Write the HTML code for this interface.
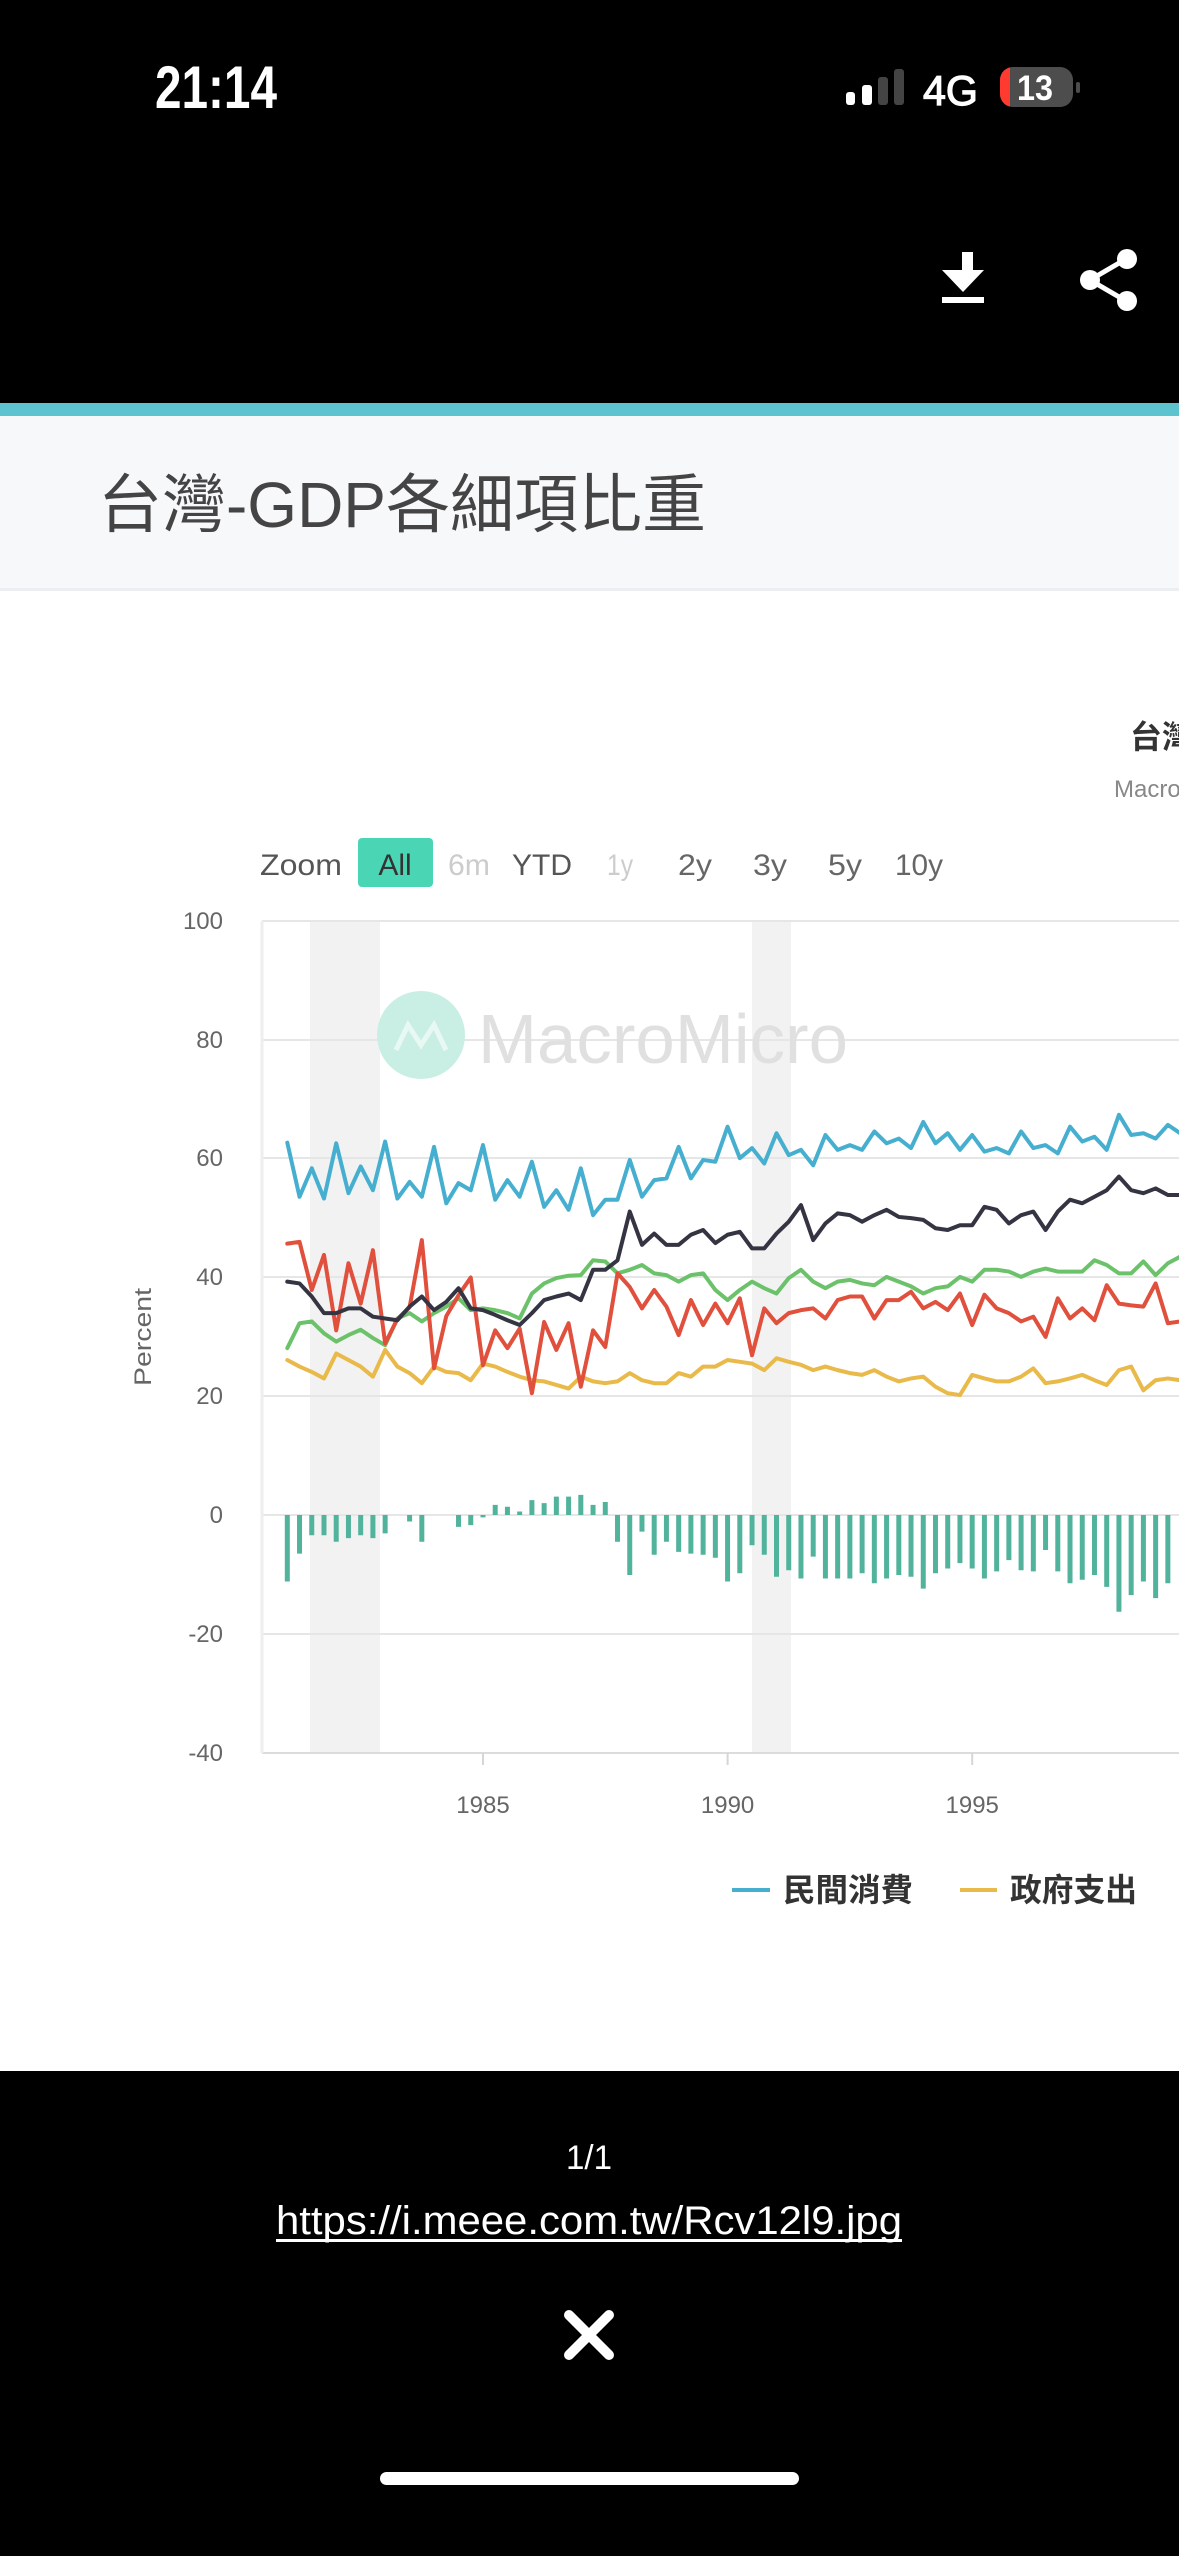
<!DOCTYPE html>
<html>
<head>
<meta charset="utf-8">
<style>
html,body{margin:0;padding:0;background:#fff;}
body{width:1179px;height:2556px;overflow:hidden;}
svg{display:block;}
text{font-family:"Liberation Sans","Noto Sans CJK TC",sans-serif;}
</style>
</head>
<body>
<svg width="1179" height="2556" viewBox="0 0 1179 2556" xmlns="http://www.w3.org/2000/svg">
  <!-- top black area -->
  <rect x="0" y="0" width="1179" height="403" fill="#000"/>
  <!-- status bar -->
  <text x="155" y="108" font-size="60" font-weight="bold" fill="#fff" textLength="122" lengthAdjust="spacingAndGlyphs">21:14</text>
  <rect x="846" y="92" width="9" height="13" rx="3" fill="#fff"/>
  <rect x="862" y="85" width="10" height="20" rx="3" fill="#fff"/>
  <rect x="878" y="77" width="10" height="28" rx="3" fill="#444"/>
  <rect x="894" y="69" width="10" height="36" rx="3" fill="#444"/>
  <text x="923" y="105" font-size="42" fill="#fff" stroke="#fff" stroke-width="1.2" textLength="55" lengthAdjust="spacingAndGlyphs">4G</text>
  <clipPath id="bat"><rect x="1000" y="67" width="73" height="40" rx="13"/></clipPath>
  <rect x="1000" y="67" width="73" height="40" rx="13" fill="#4d4d4d"/>
  <rect x="1000" y="67" width="10" height="40" fill="#ff3b30" clip-path="url(#bat)"/>
  <rect x="1076" y="82" width="4" height="11" rx="2" fill="#4d4d4d"/>
  <text x="1017" y="100" font-size="35" font-weight="bold" fill="#fff" textLength="36" lengthAdjust="spacingAndGlyphs">13</text>
  <!-- download icon -->
  <rect x="962" y="252" width="11" height="20" fill="#fff"/>
  <polygon points="942,270 984,270 963,292" fill="#fff"/>
  <rect x="942" y="297" width="42" height="6" fill="#fff"/>
  <!-- share icon -->
  <line x1="1090" y1="280" x2="1126" y2="259" stroke="#fff" stroke-width="5"/>
  <line x1="1090" y1="280" x2="1126" y2="301" stroke="#fff" stroke-width="5"/>
  <circle cx="1127" cy="259" r="10" fill="#fff"/>
  <circle cx="1090" cy="280" r="10" fill="#fff"/>
  <circle cx="1127" cy="301" r="10" fill="#fff"/>

  <!-- teal strip -->
  <rect x="0" y="403" width="1179" height="13" fill="#5cc3cf"/>
  <!-- header -->
  <rect x="0" y="416" width="1179" height="174" fill="#f7f8fa"/>
  <rect x="0" y="588" width="1179" height="3" fill="#eceef1"/>
  <text x="98" y="527" font-size="64" fill="#444" textLength="608" lengthAdjust="spacingAndGlyphs">台灣-GDP各細項比重</text>

  <!-- chart titles (cut off) -->
  <text x="1130" y="748" font-size="32" font-weight="bold" fill="#333">台灣-GDP各細項比重</text>
  <text x="1114" y="797" font-size="24" fill="#888">MacroMicro</text>

  <!-- zoom buttons -->
  <text x="260" y="875" font-size="30" fill="#555" textLength="82" lengthAdjust="spacingAndGlyphs">Zoom</text>
  <rect x="358" y="838" width="75" height="49" rx="4" fill="#4ad6b4"/>
  <text x="395" y="875" font-size="30" fill="#333" text-anchor="middle">All</text>
  <text x="448" y="875" font-size="30" fill="#ccc" textLength="42" lengthAdjust="spacingAndGlyphs">6m</text>
  <text x="512" y="875" font-size="30" fill="#555" textLength="60" lengthAdjust="spacingAndGlyphs">YTD</text>
  <text x="607" y="875" font-size="30" fill="#ccc" textLength="26" lengthAdjust="spacingAndGlyphs">1y</text>
  <text x="678" y="875" font-size="30" fill="#666" textLength="34" lengthAdjust="spacingAndGlyphs">2y</text>
  <text x="753" y="875" font-size="30" fill="#666" textLength="34" lengthAdjust="spacingAndGlyphs">3y</text>
  <text x="828" y="875" font-size="30" fill="#666" textLength="34" lengthAdjust="spacingAndGlyphs">5y</text>
  <text x="895" y="875" font-size="30" fill="#666" textLength="48" lengthAdjust="spacingAndGlyphs">10y</text>

  <!-- recession bands -->
  <rect x="310" y="921" width="70" height="832" fill="#f2f2f2"/>
  <rect x="752" y="921" width="39" height="832" fill="#f2f2f2"/>

  <!-- gridlines -->
  <g stroke="#e6e6e6" stroke-width="2">
    <line x1="262" y1="921" x2="1179" y2="921"/>
    <line x1="262" y1="1040" x2="1179" y2="1040"/>
    <line x1="262" y1="1158" x2="1179" y2="1158"/>
    <line x1="262" y1="1277" x2="1179" y2="1277"/>
    <line x1="262" y1="1396" x2="1179" y2="1396"/>
    <line x1="262" y1="1515" x2="1179" y2="1515"/>
    <line x1="262" y1="1634" x2="1179" y2="1634"/>
  </g>
  <line x1="262" y1="1753" x2="1179" y2="1753" stroke="#dcdcdc" stroke-width="2"/>
  <line x1="262" y1="921" x2="262" y2="1753" stroke="#eeeeee" stroke-width="3"/>
  <g stroke="#d6d6d6" stroke-width="2">
    <line x1="483" y1="1753" x2="483" y2="1765"/>
    <line x1="727.6" y1="1753" x2="727.6" y2="1765"/>
    <line x1="972.2" y1="1753" x2="972.2" y2="1765"/>
  </g>

  <!-- y labels -->
  <g font-size="24" fill="#666" text-anchor="end">
    <text x="223" y="929">100</text>
    <text x="223" y="1048">80</text>
    <text x="223" y="1166">60</text>
    <text x="223" y="1285">40</text>
    <text x="223" y="1404">20</text>
    <text x="223" y="1523">0</text>
    <text x="223" y="1642">-20</text>
    <text x="223" y="1761">-40</text>
  </g>
  <!-- x labels -->
  <g font-size="24" fill="#666" text-anchor="middle">
    <text x="483" y="1813">1985</text>
    <text x="727.6" y="1813">1990</text>
    <text x="972.2" y="1813">1995</text>
  </g>
  <text transform="translate(151,1337) rotate(-90)" font-size="24" fill="#666" text-anchor="middle" textLength="98" lengthAdjust="spacingAndGlyphs">Percent</text>

  <!-- watermark -->
  <circle cx="421" cy="1035" r="44" fill="#c9efe4"/>
  <polyline points="396,1050 408,1025 421,1045 434,1025 446,1050" fill="none" stroke="#e8f8f3" stroke-width="5"/>
  <text x="478" y="1063" font-size="70" fill="#e0e0e0" textLength="370" lengthAdjust="spacingAndGlyphs">MacroMicro</text>

  <!-- series (data coords: x=quarter index, y=value) -->
  <g transform="matrix(12.23 0 0 -5.9375 287.3 1515)" fill="none" stroke-linejoin="round" stroke-linecap="round">
    <path vector-effect="non-scaling-stroke" stroke="#52b39c" stroke-width="5" stroke-linecap="butt" d="M0 0V-11.2M1 0V-6.5M2 0V-3.4M3 0V-3.4M4 0V-4.5M5 0V-3.9M6 0V-3.4M7 0V-3.9M8 0V-3.1M10 0V-1.1M11 0V-4.5M14 0V-2M15 0V-1.7M16 0V-0.4M17 0V1.7M18 0V1.4M19 0V0.6M20 0V2.5M21 0V2M22 0V3.1M23 0V3.1M24 0V3.4M25 0V1.7M26 0V2.2M27 0V-4.5M28 0V-10.1M29 0V-2.8M30 0V-6.7M31 0V-4.5M32 0V-6.2M33 0V-6.5M34 0V-6.7M35 0V-7.2M36 0V-11.2M37 0V-9.8M38 0V-5.1M39 0V-6.7M40 0V-10.4M41 0V-9.3M42 0V-10.7M43 0V-7M44 0V-10.7M45 0V-10.7M46 0V-10.7M47 0V-9.8M48 0V-11.5M49 0V-10.7M50 0V-10.1M51 0V-10.4M52 0V-12.4M53 0V-9.8M54 0V-9M55 0V-8.1M56 0V-9M57 0V-10.7M58 0V-9.5M59 0V-7.6M60 0V-9.3M61 0V-9.5M62 0V-5.9M63 0V-9.5M64 0V-11.5M65 0V-10.9M66 0V-10.1M67 0V-12.1M68 0V-16.3M69 0V-13.5M70 0V-11.2M71 0V-14M72 0V-11.5"/>
    <polyline vector-effect="non-scaling-stroke" stroke="#e9b949" stroke-width="4" points="0,26.1 1,25 2,24.1 3,23 4,27.2 5,26.1 6,25 7,23.3 8,27.8 9,25 10,23.9 11,22.2 12,25 13,24.1 14,23.9 15,22.7 16,25.5 17,25 18,24.1 19,23.3 20,22.7 21,22.5 22,21.9 23,21.3 24,23.3 25,22.5 26,22.2 27,22.5 28,23.9 29,22.7 30,22.2 31,22.2 32,23.9 33,23.3 34,25 35,25 36,26.1 37,25.8 38,25.5 39,24.4 40,26.4 41,25.8 42,25.3 43,24.4 44,25 45,24.4 46,23.9 47,23.6 48,24.4 49,23.3 50,22.5 51,23 52,23.3 53,21.6 54,20.5 55,20.2 56,23.6 57,23 58,22.5 59,22.5 60,23.3 61,24.7 62,22.2 63,22.5 64,23 65,23.6 66,22.7 67,21.9 68,24.4 69,25 70,21 71,22.7 72,23 73,22.7"/>
    <polyline vector-effect="non-scaling-stroke" stroke="#6cc26a" stroke-width="4" points="0,28.1 1,32.3 2,32.6 3,30.6 4,29.2 5,30.3 6,31.2 7,29.8 8,28.6 9,33.1 10,34 11,32.6 12,34 13,35.1 14,36.5 15,34.5 16,34.8 17,34.5 18,34 19,33.1 20,37.3 21,39 22,39.9 23,40.3 24,40.4 25,42.9 26,42.7 27,40.7 28,41.3 29,42.1 30,40.7 31,40.4 32,39.3 33,40.4 34,40.7 35,37.9 36,36.2 37,37.9 38,39.3 39,38.2 40,37.3 41,39.9 42,41.3 43,39.3 44,38.2 45,39.3 46,39.6 47,39 48,38.7 49,40.1 50,39.3 51,38.5 52,37.3 53,38.2 54,38.5 55,40.1 56,39.3 57,41.3 58,41.3 59,41 60,40.1 61,41 62,41.5 63,41 64,41 65,41 66,42.9 67,42.1 68,40.7 69,40.7 70,42.7 71,40.4 72,42.4 73,43.5"/>
    <polyline vector-effect="non-scaling-stroke" stroke="#e0503c" stroke-width="4" points="0,45.7 1,46 2,37.9 3,43.8 4,31.1 5,42.4 6,35.6 7,44.6 8,28.9 9,33 10,35 11,46.3 12,24.7 13,33.5 14,37 15,40 16,25.2 17,31.1 18,28.1 19,31.4 20,20.5 21,32.5 22,27.8 23,32.3 24,21.6 25,31.1 26,28.3 27,40.7 28,38.4 29,34.8 30,37.9 31,35.1 32,30.3 33,36.2 34,32 35,35.6 36,32.3 37,36.5 38,26.9 39,34.8 40,32.3 41,34 42,34.5 43,34.8 44,33.1 45,36.2 46,36.8 47,36.8 48,33.1 49,36.2 50,36.2 51,37.6 52,34.8 53,35.9 54,34.5 55,37.3 56,32 57,37.1 58,34.8 59,34 60,32.6 61,33.4 62,30 63,36.5 64,33.1 65,34.8 66,32.8 67,38.7 68,35.6 69,35.3 70,35.1 71,39 72,32.3 73,32.6"/>
    <polyline vector-effect="non-scaling-stroke" stroke="#343442" stroke-width="4" points="0,39.3 1,39 2,36.8 3,34 4,34 5,34.8 6,34.8 7,33.4 8,33.1 9,32.8 10,35.1 11,36.8 12,34.5 13,35.9 14,38.2 15,34.8 16,34.5 17,33.7 18,32.8 19,32 20,34 21,36.2 22,36.8 23,37.3 24,36.2 25,41.3 26,41.3 27,42.9 28,51.1 29,45.5 30,47.4 31,45.5 32,45.5 33,47.2 34,48 35,45.8 36,47.2 37,47.7 38,44.9 39,44.9 40,47.4 41,49.4 42,52.2 43,46.3 44,49.1 45,50.8 46,50.5 47,49.4 48,50.5 49,51.4 50,50.2 51,50 52,49.7 53,48.3 54,48 55,48.8 56,48.8 57,51.9 58,51.4 59,49.1 60,50.5 61,51.1 62,48 63,51.1 64,53.1 65,52.5 66,53.6 67,54.7 68,57 69,54.7 70,54.2 71,55 72,53.9 73,53.9"/>
    <polyline vector-effect="non-scaling-stroke" stroke="#46afd0" stroke-width="4" points="0,62.7 1,53.6 2,58.4 3,53.3 4,62.6 5,54.2 6,58.7 7,54.7 8,62.9 9,53.3 10,56.1 11,53.6 12,62 13,52.5 14,55.9 15,54.7 16,62.3 17,53.1 18,56.4 19,53.6 20,59.5 21,51.9 22,54.7 23,51.4 24,58.4 25,50.5 26,53.1 27,53.1 28,59.8 29,53.6 30,56.4 31,56.7 32,62 33,56.7 34,59.8 35,59.5 36,65.4 37,60.1 38,61.8 39,59.2 40,64.3 41,60.6 42,61.5 43,58.9 44,64 45,61.5 46,62.3 47,61.5 48,64.6 49,62.6 50,63.4 51,61.8 52,66.2 53,62.6 54,64.3 55,61.5 56,64 57,61.2 58,61.8 59,60.9 60,64.6 61,61.8 62,62.3 63,60.9 64,65.4 65,62.9 66,63.7 67,61.5 68,67.4 69,64 70,64.3 71,63.4 72,65.7 73,64.3"/>
  </g>

  <!-- legend -->
  <line x1="732" y1="1890" x2="770" y2="1890" stroke="#46afd0" stroke-width="4"/>
  <text x="783" y="1901" font-size="32" font-weight="bold" fill="#333" textLength="130" lengthAdjust="spacingAndGlyphs">民間消費</text>
  <line x1="960" y1="1890" x2="997" y2="1890" stroke="#e9b949" stroke-width="4"/>
  <text x="1010" y="1901" font-size="32" font-weight="bold" fill="#333" textLength="127" lengthAdjust="spacingAndGlyphs">政府支出</text>

  <!-- bottom black area -->
  <rect x="0" y="2071" width="1179" height="485" fill="#000"/>
  <text x="589" y="2169" font-size="34" fill="#fff" text-anchor="middle" textLength="46" lengthAdjust="spacingAndGlyphs">1/1</text>
  <text x="276" y="2234" font-size="40" fill="#fff" textLength="626" lengthAdjust="spacingAndGlyphs">https://i.meee.com.tw/Rcv12l9.jpg</text>
  <rect x="276" y="2239" width="626" height="3" fill="#fff"/>
  <g stroke="#fff" stroke-width="10" stroke-linecap="round">
    <line x1="569" y1="2315" x2="609" y2="2355"/>
    <line x1="609" y1="2315" x2="569" y2="2355"/>
  </g>
  <rect x="380" y="2472" width="419" height="13" rx="6.5" fill="#fff"/>
</svg>
</body>
</html>
